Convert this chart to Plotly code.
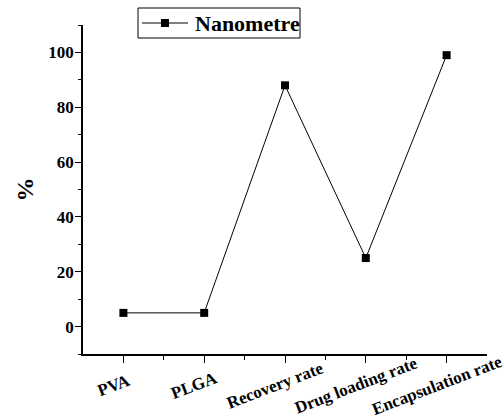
import plotly.graph_objects as go

categories = ["PVA", "PLGA", "Recovery rate", "Drug loading rate", "Encapsulation rate"]
values = [5, 5, 88, 25, 99]
series_name = "Nanometre"
y_ticks = [0, 20, 40, 60, 80, 100]

x_pos = list(range(len(categories)))

FONT = "Liberation Serif"

# plot area in pixels (for the hand-drawn legend)
L, R, T, B, W, H = 83, 16, 25, 64, 503, 418
PW, PH = W - L - R, H - T - B
def px(x): return (x - L) / PW
def py(y): return (H - B - y) / PH

fig = go.Figure()
fig.add_trace(go.Scatter(
    x=x_pos, y=values, name=series_name,
    mode="lines+markers",
    line=dict(color="black", width=1),
    marker=dict(symbol="square", size=8, color="black"),
    showlegend=False,
))

# x tick labels, rotated about their centres
for xp, lab in zip(x_pos, categories):
    fig.add_annotation(
        x=xp, y=0, xref="x", yref="paper", text=lab, showarrow=False,
        textangle=-21, xanchor="center", yanchor="middle",
        xshift=-10, yshift=-31,
        font=dict(family=FONT, size=17, color="black", weight="bold"),
    )

# legend
fig.add_shape(type="rect", xref="paper", yref="paper",
              x0=px(138), x1=px(300), y0=py(38), y1=py(8),
              line=dict(color="black", width=1), fillcolor="white", layer="above")
fig.add_shape(type="line", xref="paper", yref="paper",
              x0=px(142), x1=px(188), y0=py(23), y1=py(23),
              line=dict(color="black", width=1), layer="above")
fig.add_shape(type="rect", xref="paper", yref="paper",
              x0=px(161), x1=px(169), y0=py(27), y1=py(19),
              line=dict(color="black", width=0), fillcolor="black", layer="above")
fig.add_annotation(x=px(193), y=py(23), xref="paper", yref="paper",
                   text=series_name, showarrow=False, xanchor="left", yanchor="middle",
                   font=dict(family=FONT, size=22, color="black", weight="bold"))

fig.update_layout(
    width=W, height=H,
    margin=dict(l=L, r=R, t=T, b=B, autoexpand=False),
    paper_bgcolor="white", plot_bgcolor="white",
    font=dict(family=FONT, color="black", size=18),
    showlegend=False,
)

fig.update_xaxes(
    range=[-0.5, 4.5], automargin=False,
    tickmode="array", tickvals=x_pos, ticktext=categories, showticklabels=False,
    showline=True, linecolor="black", linewidth=1.5,
    ticks="outside", ticklen=7, tickwidth=1.2, tickcolor="black",
    minor=dict(tickvals=[i + 0.5 for i in x_pos[:-1]], ticks="outside", ticklen=4, tickwidth=1.2, tickcolor="black"),
    showgrid=False, zeroline=False, mirror=False,
)

fig.update_yaxes(
    range=[-10, 110], automargin=False,
    tickmode="array", tickvals=y_ticks,
    tickfont=dict(family=FONT, size=17, color="black", weight="bold"),
    ticklabelstandoff=-2,
    showline=True, linecolor="black", linewidth=1.5,
    ticks="outside", ticklen=6, tickwidth=1.2, tickcolor="black",
    minor=dict(tickvals=[t + 10 for t in [-20] + y_ticks], ticks="outside", ticklen=3, tickwidth=1.2, tickcolor="black"),
    showgrid=False, zeroline=False,
    title=dict(text="%", font=dict(family=FONT, size=24, color="black", weight="bold"), standoff=8),
)

fig.write_html("out.html", config={"displayModeBar": False},
               post_script="document.body.style.margin='0px';document.body.style.overflow='hidden';")
